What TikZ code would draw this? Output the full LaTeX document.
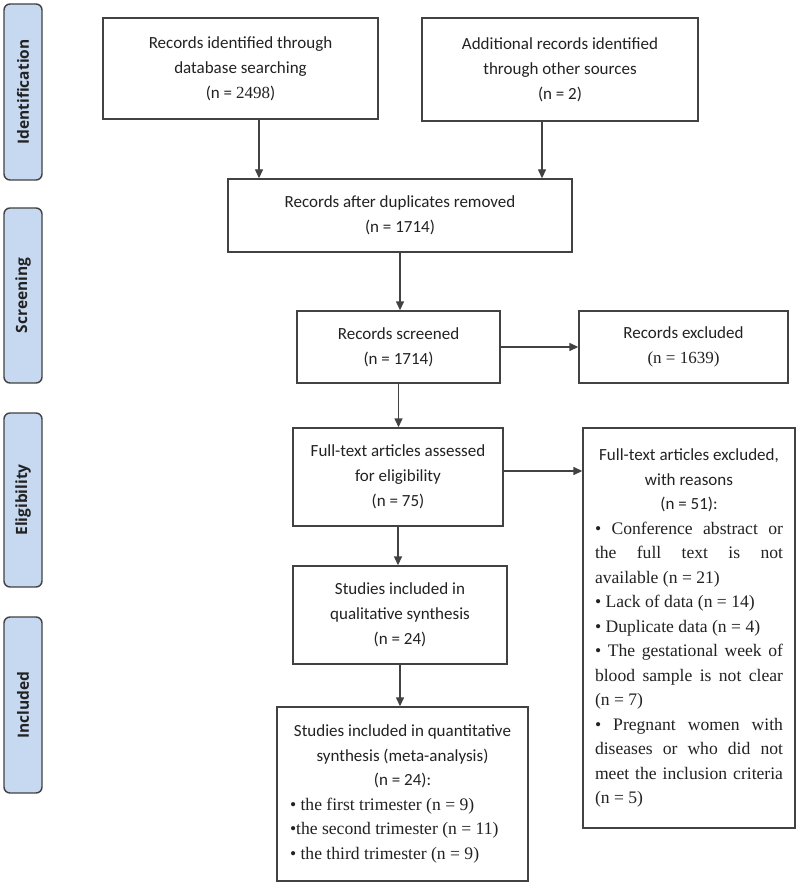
\documentclass[tikz,border=0pt]{standalone}
\usepackage{fontspec}
\setmainfont{Carlito}
\newfontfamily\serif{Liberation Serif}
\newfontfamily\labfont{Open Sans}
\usetikzlibrary{arrows.meta,calc}
\definecolor{lblue}{HTML}{C6D9F1}
\definecolor{edge}{HTML}{424242}
\definecolor{ink}{HTML}{222222}
\begin{document}
\begin{tikzpicture}[x=1pt,y=-1pt,
  box/.style={draw=edge, line width=1.4pt, fill=white, inner sep=0pt, align=center, text=ink,
    font=\fontsize{17}{25}\selectfont},
  stage/.style={draw=edge, line width=1.4pt, fill=lblue, rounded corners=6pt, inner sep=0pt,
    rotate=90, minimum height=38pt, text=ink, font=\labfont\bfseries\fontsize{15.5}{18}\selectfont},
  arr/.style={draw=edge, line width=1.4pt, -{Triangle[length=9pt,width=8pt]}}]
\useasboundingbox[fill=white] (0,0) rectangle (800,885);

% stage labels
\node[stage, minimum width=176pt] (s1) at (23,92) {Identification};
\node[stage, minimum width=175pt] (s2) at (23,295.5) {Screening};
\node[stage, minimum width=174pt] (s3) at (23,500) {Eligibility};
\node[stage, minimum width=176pt] (s4) at (23,705) {Included};

% boxes
\node[box, minimum width=275pt, minimum height=101pt] (b1) at (240.5,68.5)
  {Records identified through\\database searching\\(n = {\serif 2498})};
\node[box, minimum width=276pt, minimum height=103pt] (b2) at (560,69.5)
  {Additional records identified\\through other sources\\(n = 2)};
\node[box, minimum width=344pt, minimum height=73pt] (b3) at (400,215.5)
  {Records after duplicates removed\\(n = 1714)};
\node[box, minimum width=203pt, minimum height=72pt] (b4) at (398.5,347)
  {Records screened\\(n = 1714)};
\node[box, minimum width=209pt, minimum height=72pt] (b5) at (683.5,347)
  {Records excluded\\{\serif (n = 1639)}};
\node[box, minimum width=210pt, minimum height=98pt] (b6) at (398,477)
  {Full-text articles assessed\\for eligibility\\(n = 75)};
\node[box, minimum width=212pt, minimum height=400pt] (b7) at (689,628)
  {\parbox{188pt}{\fontsize{17}{24.5}\selectfont\hyphenpenalty=10000
   {\centering Full-text articles excluded,\\with reasons\\(n = 51):\par}
   \serif\fontsize{17.6}{24.5}\selectfont
   • Conference abstract or\linebreak the full text is not\linebreak available (n = 21)\par
   • Lack of data (n = 14)\par
   • Duplicate data (n = 4)\par
   • The gestational week of\linebreak blood sample is not clear\linebreak (n = 7)\par
   • Pregnant women with\linebreak diseases or who did not\linebreak meet the inclusion criteria\linebreak (n = 5)\par}};
\node[box, minimum width=214pt, minimum height=98pt] (b8) at (400,615)
  {Studies included in\\qualitative synthesis\\(n = 24)};
\node[box, minimum width=251pt, minimum height=174pt] (b9) at (402.5,794)
  {\parbox{225pt}{\fontsize{17}{24.5}\selectfont
   {\centering Studies included in quantitative\\synthesis (meta-analysis)\\(n = 24):\par}
   \raggedright\serif\fontsize{17.6}{24.5}\selectfont
   • the first trimester (n = 9)\\
   •the second trimester (n = 11)\\
   • the third trimester (n = 9)\par}};

% connectors
\draw[arr] ([xshift=18.5pt]b1.south) -- ([xshift=18.5pt]b1.south |- b3.north);
\draw[arr] ([xshift=-18pt]b2.south) -- ([xshift=-18pt]b2.south |- b3.north);
\draw[arr] (b3.south) -- (b3.south |- b4.north);
\draw[arr] (b4.east) -- (b4.east -| b5.west);
\draw[arr] (b4.south) -- (b4.south |- b6.north);
\draw[arr] ([yshift=6pt]b6.east) -- ([yshift=6pt]b6.east -| b7.west);
\draw[arr] (b6.south) -- (b6.south |- b8.north);
\draw[arr] (b8.south) -- (b8.south |- b9.north);
\end{tikzpicture}
\end{document}
